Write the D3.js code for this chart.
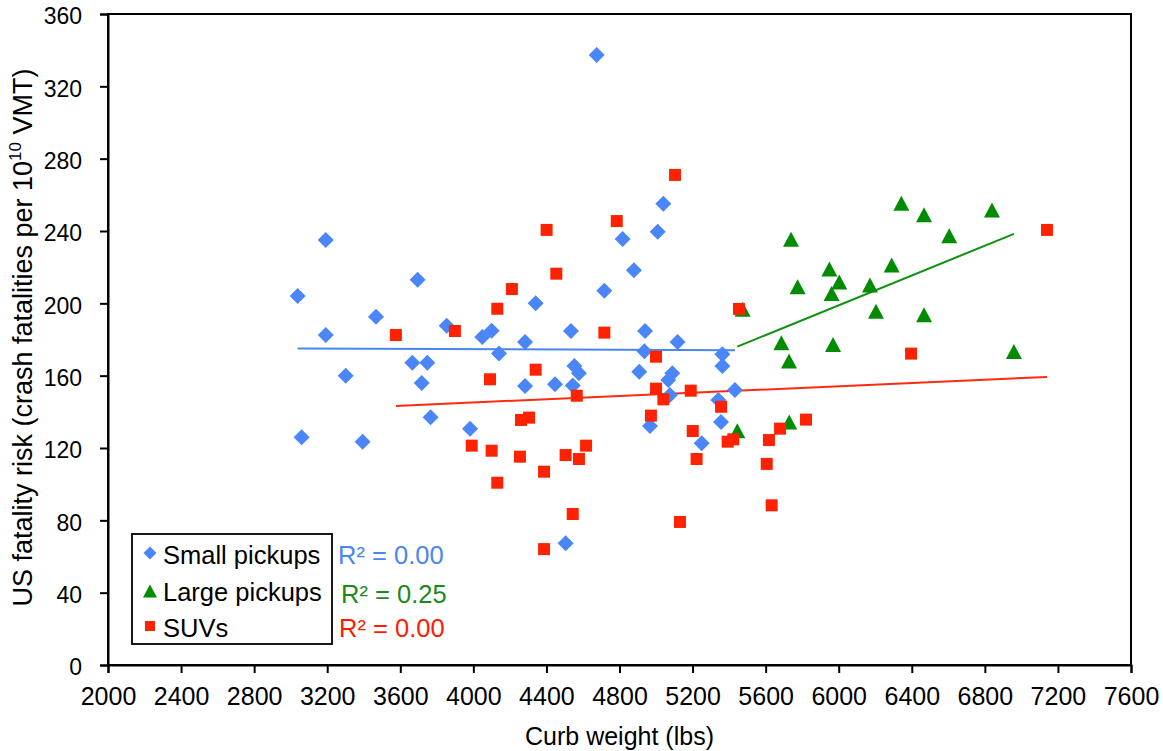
<!DOCTYPE html>
<html>
<head>
<meta charset="utf-8">
<script src="https://cdn.jsdelivr.net/npm/d3@7"></script>
<style>
  html, body { margin: 0; padding: 0; background: #fff; }
  svg { display: block; font-family: "Liberation Sans", Arial, sans-serif; }
</style>
</head>
<body>
<svg id="chart" width="1163" height="751"></svg>
<script>
// ---- Data ----
const xTicks = [2000, 2400, 2800, 3200, 3600, 4000, 4400, 4800, 5200, 5600, 6000, 6400, 6800, 7200, 7600];
const yTicks = [0, 40, 80, 120, 160, 200, 240, 280, 320, 360];

const smallX = [3038, 3060, 3192, 3192, 3301, 3394, 3467, 3666, 3695, 3717, 3748, 3766, 3854, 3982, 4049, 4100, 4140, 4283, 4283, 4341, 4447, 4534, 4544, 4553, 4578, 4505, 4675, 4717, 4817, 4879, 4908, 4940, 4936, 4967, 5009, 5040, 5076, 5067, 5089, 5118, 5250, 5341, 5356, 5363, 5363, 5432];
const smallY = [204, 126, 235, 182.5, 160, 123.5, 192.6, 167.2, 213, 156, 167.2, 137, 187.6, 130.7, 181.4, 184.9, 172.2, 178.6, 154.3, 200, 155.2, 184.7, 154.5, 165.3, 161.3, 67.3, 337.3, 207, 235.6, 218.3, 162.2, 184.7, 173.5, 132.2, 239.6, 255.1, 149.3, 157.6, 161.3, 178.6, 122.6, 146.5, 134.4, 171.8, 165.3, 152.1];

const largeX = [5445, 5474, 5686, 5728, 5729, 5739, 5775, 5949, 5961, 5969, 6003, 6171, 6204, 6290, 6343, 6467, 6467, 6605, 6839, 6959];
const largeY = [129.6, 196.7, 178.2, 168.1, 134.4, 235.4, 209.2, 219, 205.5, 177.3, 211.8, 210.1, 195.6, 221.2, 255.3, 249, 193.7, 237.4, 251.6, 173.3];

const suvX = [3576, 3899, 3991, 4091, 4100, 4131, 4131, 4211, 4255, 4261, 4305, 4341, 4387, 4387, 4401, 4454, 4505, 4544, 4566, 4578, 4617, 4717, 4785, 4972, 5000, 5000, 5040, 5104, 5131, 5190, 5201, 5222, 5356, 5392, 5423, 5454, 5606, 5618, 5633, 5679, 5821, 6396, 7140];
const suvY = [182.5, 184.7, 121.3, 158, 118.5, 197, 100.8, 207.9, 115.2, 135.5, 136.8, 163.3, 106.9, 64.1, 240.6, 216.4, 116.1, 83.5, 148.9, 113.9, 121.3, 183.8, 245.5, 137.9, 170.5, 152.8, 146.9, 271, 79.1, 151.7, 129.4, 113.9, 142.8, 123.5, 124.8, 196.9, 111.2, 124.4, 88.3, 130.7, 135.7, 172.2, 240.6];

const seriesNames = ["Small pickups", "Large pickups", "SUVs"];
const r2Labels = ["R² = 0.00", "R² = 0.25", "R² = 0.00"];

// ---- Layout ----
const W = 1163, H = 751;
const plot = { left: 108, right: 1131, top: 14, bottom: 665 };
const colors = {
  small: "#4a86f7", large: "#008c00", suv: "#ff2200",
  smallLine: "#4a86f0", largeLine: "#109010", suvLine: "#ff2a10",
  smallText: "#4a86f0", largeText: "#1a8a1a", suvText: "#ff1a00"
};

const svg = d3.select("#chart");
const x = d3.scaleLinear().domain([2000, 7600]).range([plot.left, plot.right]);
const y = d3.scaleLinear().domain([0, 360]).range([plot.bottom, plot.top]);

// Plot frame
svg.append("rect")
  .attr("x", plot.left).attr("y", plot.top)
  .attr("width", plot.right - plot.left).attr("height", plot.bottom - plot.top)
  .attr("fill", "none").attr("stroke", "#000").attr("stroke-width", 2);

// Axes
const xAxis = d3.axisBottom(x).tickValues(xTicks).tickSize(8).tickPadding(14).tickFormat(d3.format("d"));
const gx = svg.append("g").attr("transform", `translate(0,${plot.bottom})`).call(xAxis);
gx.select(".domain").attr("stroke", "#000").attr("stroke-width", 2);
gx.selectAll(".tick line").attr("stroke", "#000").attr("stroke-width", 2);
gx.selectAll(".tick text").attr("font-size", 25).attr("fill", "#000")
  .attr("font-family", "Liberation Sans, Arial, sans-serif").attr("dy", "0.71em");

const yAxis = d3.axisLeft(y).tickValues(yTicks).tickSize(8).tickPadding(18).tickFormat(d3.format("d"));
const gy = svg.append("g").attr("transform", `translate(${plot.left},0)`).call(yAxis);
gy.select(".domain").attr("stroke", "#000").attr("stroke-width", 2);
gy.selectAll(".tick line").attr("stroke", "#000").attr("stroke-width", 2);
gy.selectAll(".tick text").attr("font-size", 23).attr("fill", "#000")
  .attr("font-family", "Liberation Sans, Arial, sans-serif").attr("dy", "0.42em");

// Axis titles
svg.append("text")
  .attr("x", (plot.left + plot.right) / 2).attr("y", 745)
  .attr("text-anchor", "middle").attr("font-size", 25).attr("fill", "#000")
  .text("Curb weight (lbs)");

const yTitle = svg.append("text")
  .attr("transform", `translate(32,${(plot.top + plot.bottom) / 2 - 2}) rotate(-90)`)
  .attr("text-anchor", "middle").attr("font-size", 27).attr("fill", "#000");
yTitle.append("tspan").text("US fatality risk (crash fatalities per 10");
yTitle.append("tspan").attr("font-size", 17).attr("dy", -11).text("10");
yTitle.append("tspan").attr("dy", 11).text(" VMT)");

// Trend lines (least squares over each series, drawn from min x to max x)
function fit(xs, ys) {
  const n = xs.length;
  const mx = d3.mean(xs), my = d3.mean(ys);
  let sxy = 0, sxx = 0;
  for (let i = 0; i < n; i++) { sxy += (xs[i] - mx) * (ys[i] - my); sxx += (xs[i] - mx) ** 2; }
  const b = sxy / sxx, a = my - b * mx;
  const [x0, x1] = d3.extent(xs);
  return [[x0, a + b * x0], [x1, a + b * x1]];
}
const line = d3.line().x(d => x(d[0])).y(d => y(d[1]));
const gLines = svg.append("g");
gLines.append("path").attr("d", line(fit(smallX, smallY))).attr("stroke", colors.smallLine).attr("stroke-width", 2).attr("fill", "none");
gLines.append("path").attr("d", line(fit(largeX, largeY))).attr("stroke", colors.largeLine).attr("stroke-width", 2).attr("fill", "none");
gLines.append("path").attr("d", line(fit(suvX, suvY))).attr("stroke", colors.suvLine).attr("stroke-width", 2).attr("fill", "none");

// Marker shapes
const diamond = s => `M0,${-s}L${s},0L0,${s}L${-s},0Z`;
const triangle = (w, h) => `M0,${-h / 2}L${w / 2},${h / 2}L${-w / 2},${h / 2}Z`;
const square = s => `M${-s / 2},${-s / 2}h${s}v${s}h${-s}Z`;

const zip = (xs, ys) => xs.map((v, i) => [v, ys[i]]);

svg.append("g").selectAll("path").data(zip(smallX, smallY)).join("path")
  .attr("transform", d => `translate(${x(d[0])},${y(d[1])})`)
  .attr("d", diamond(8)).attr("fill", colors.small);

svg.append("g").selectAll("path").data(zip(largeX, largeY)).join("path")
  .attr("transform", d => `translate(${x(d[0])},${y(d[1])})`)
  .attr("d", triangle(16, 15)).attr("fill", colors.large);

svg.append("g").selectAll("path").data(zip(suvX, suvY)).join("path")
  .attr("transform", d => `translate(${x(d[0])},${y(d[1])})`)
  .attr("d", square(12)).attr("fill", colors.suv);

// Legend
const lg = svg.append("g");
lg.append("rect").attr("x", 132).attr("y", 534).attr("width", 200).attr("height", 110)
  .attr("fill", "#fff").attr("stroke", "#000").attr("stroke-width", 1.8);
const legendRows = [
  { name: seriesNames[0], shape: diamond(6.5), color: colors.small, yText: 564, yMark: 553 },
  { name: seriesNames[1], shape: triangle(14, 13), color: colors.large, yText: 601, yMark: 591 },
  { name: seriesNames[2], shape: square(10), color: colors.suv, yText: 637, yMark: 626 }
];
legendRows.forEach(r => {
  lg.append("path").attr("transform", `translate(150,${r.yMark})`).attr("d", r.shape).attr("fill", r.color);
  lg.append("text").attr("x", 163).attr("y", r.yText).attr("font-size", 25.5).attr("fill", "#000").text(r.name);
});

// R² labels
const r2Pos = [
  { x: 338, y: 564, c: colors.smallText },
  { x: 341, y: 602.5, c: colors.largeText },
  { x: 339, y: 637, c: colors.suvText }
];
r2Labels.forEach((t, i) => {
  svg.append("text").attr("x", r2Pos[i].x).attr("y", r2Pos[i].y)
    .attr("font-size", 25.5).attr("fill", r2Pos[i].c).text(t);
});
</script>
</body>
</html>
